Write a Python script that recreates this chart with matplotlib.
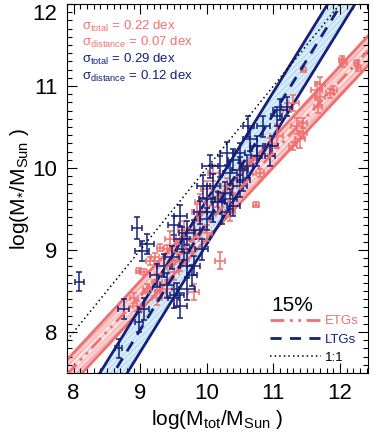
import numpy as np
import matplotlib
matplotlib.use("Agg")
import matplotlib.pyplot as plt
from matplotlib.ticker import MultipleLocator

plt.rcParams['font.family'] = ['Liberation Sans', 'DejaVu Sans']
plt.rcParams['mathtext.fontset'] = 'custom'
plt.rcParams['mathtext.rm'] = 'Liberation Sans'
plt.rcParams['mathtext.it'] = 'Liberation Sans'
plt.rcParams['mathtext.sf'] = 'Liberation Sans'
plt.rcParams['hatch.linewidth'] = 0.6

# ---------------- data ----------------
ltg_x = [8.085, 8.95, 9.025, 9.1, 8.75, 9.05, 8.975, 8.675, 9.475, 9.5, 9.55, 9.5, 9.6,
         9.7, 9.65, 9.775, 9.8, 9.925, 9.625, 9.9, 10.0, 10.1, 10.175, 10.225, 10.275,
         10.35, 10.4, 10.5, 10.4, 10.55, 10.625, 10.65, 10.75, 10.75, 10.85, 10.975,
         11.05, 11.1, 11.2, 10.5, 10.6, 10.2, 10.3, 10.05, 9.8, 9.35, 9.7, 9.25, 9.6,
         10.0, 9.4, 9.7, 10.1, 9.95, 10.35, 10.5, 10.95]
ltg_y = [8.615, 9.27, 8.99, 9.07, 8.28, 8.28, 8.12, 7.8, 8.91, 9.3, 8.45, 8.41, 8.32,
         9.21, 9.01, 8.69, 8.81, 9.01, 9.13, 9.46, 9.62, 9.78, 9.58, 9.46, 9.7,
         9.94, 10.1, 9.98, 9.54, 9.86, 10.51, 10.35, 10.27, 10.15, 10.51, 10.27,
         10.63, 10.71, 10.75, 9.78, 10.02, 10.02, 10.18, 10.02, 9.25, 8.81, 8.81, 8.69, 9.42,
         9.38, 8.57, 8.53, 9.46, 9.78, 9.62, 10.18, 10.15]
ltg_xerr = [0.07, 0.08, 0.1, 0.1, 0.08, 0.08, 0.06, 0.05, 0.1, 0.08, 0.1, 0.08, 0.1,
            0.12, 0.1, 0.08, 0.1, 0.1, 0.12, 0.1, 0.12, 0.1, 0.1, 0.12, 0.1,
            0.1, 0.08, 0.12, 0.1, 0.1, 0.08, 0.1, 0.1, 0.08, 0.1, 0.1,
            0.08, 0.1, 0.08, 0.1, 0.1, 0.12, 0.1, 0.12, 0.1, 0.1, 0.1, 0.1, 0.1,
            0.1, 0.1, 0.12, 0.1, 0.1, 0.1, 0.08, 0.08]
ltg_yerr = [0.12, 0.13, 0.12, 0.12, 0.12, 0.13, 0.12, 0.12, 0.14, 0.12, 0.15, 0.12, 0.15,
            0.15, 0.13, 0.13, 0.12, 0.13, 0.15, 0.14, 0.16, 0.15, 0.13, 0.14, 0.13,
            0.14, 0.13, 0.15, 0.13, 0.14, 0.13, 0.14, 0.12, 0.12, 0.13, 0.12,
            0.12, 0.13, 0.12, 0.13, 0.14, 0.13, 0.14, 0.14, 0.12, 0.14, 0.15, 0.14, 0.13,
            0.13, 0.15, 0.14, 0.12, 0.14, 0.12, 0.12, 0.13]

etg_x = [10.2, 10.74, 8.975, 9.05, 9.15, 9.225, 9.3, 9.4, 8.9, 8.95, 9.3, 9.25, 9.5,
         9.65, 9.7, 9.8, 9.9, 9.85, 10.0, 10.1, 10.15, 10.3, 10.4, 10.55, 10.7, 10.8,
         10.95, 11.05, 11.2, 11.3, 11.3, 11.4, 11.45, 11.45, 11.35, 11.45, 11.675, 11.7,
         11.65, 11.85, 11.9, 12.025, 12.05, 12.25, 12.275, 11.7, 9.55, 9.6, 10.0, 9.4,
         9.45, 9.25, 9.1, 9.8, 9.9, 10.35]
etg_y = [8.87, 9.55, 8.75, 8.73, 8.87, 8.91, 9.03, 9.01, 8.41, 8.32, 8.49, 8.41, 8.73,
         9.25, 8.97, 9.13, 9.25, 9.46, 9.74, 9.94, 9.62, 9.78, 9.78, 10.02, 10.1, 9.94,
         10.27, 10.39, 10.71, 10.79, 10.27, 10.35, 10.43, 10.55, 10.51, 11.2, 10.75, 10.87,
         10.95, 10.91, 10.95, 11.32, 11.28, 11.28, 11.22, 11.03, 8.97, 8.85, 9.21, 8.53,
         9.13, 8.61, 8.53, 8.49, 9.58, 9.46]
etg_xerr = [0.08, 0.05, 0.04, 0.05, 0.06, 0.06, 0.05, 0.06, 0.06, 0.06, 0.08, 0.08, 0.08,
            0.08, 0.08, 0.08, 0.08, 0.08, 0.08, 0.08, 0.08, 0.08, 0.06, 0.06, 0.06, 0.06,
            0.08, 0.1, 0.06, 0.08, 0.06, 0.08, 0.06, 0.06, 0.08, 0.04, 0.06, 0.08,
            0.08, 0.06, 0.05, 0.04, 0.05, 0.04, 0.04, 0.08, 0.08, 0.08, 0.08, 0.08,
            0.08, 0.08, 0.06, 0.08, 0.08, 0.08]
etg_yerr = [0.1, 0.03, 0.03, 0.04, 0.05, 0.05, 0.04, 0.05, 0.06, 0.06, 0.08, 0.08, 0.1,
            0.1, 0.1, 0.1, 0.1, 0.1, 0.1, 0.1, 0.1, 0.1, 0.08, 0.06, 0.06, 0.05,
            0.1, 0.15, 0.08, 0.1, 0.05, 0.1, 0.06, 0.06, 0.1, 0.03, 0.08, 0.1,
            0.1, 0.06, 0.05, 0.05, 0.05, 0.04, 0.04, 0.08, 0.1, 0.1, 0.1, 0.1,
            0.1, 0.1, 0.06, 0.1, 0.1, 0.1]

# fit relations (slope, value at x0)
etg_slope, etg_x0, etg_y0 = 0.874, 7.9, 7.48
etg_half_total, etg_half_dist = 0.18, 0.08
ltg_slope, ltg_x0, ltg_y0 = 1.316, 8.6, 7.5
ltg_half_total = 0.27

x_ticks = [8, 9, 10, 11, 12]
y_ticks = [8, 9, 10, 11, 12]

sigma_labels = [r'$\sigma_{\rm total}$ = 0.22 dex', r'$\sigma_{\rm distance}$ = 0.07 dex',
                r'$\sigma_{\rm total}$ = 0.29 dex', r'$\sigma_{\rm distance}$ = 0.12 dex']

SALMON = '#f07070'
NAVY = '#14207a'

fig = plt.figure(figsize=(3.74, 4.33), dpi=100)
ax = fig.add_axes([0.179, 0.1386, 0.805, 0.852])

xx = np.linspace(7.9, 12.42, 200)
ey = etg_y0 + etg_slope * (xx - etg_x0)
ly = ltg_y0 + ltg_slope * (xx - ltg_x0)

# ETG band
ax.fill_between(xx, ey - etg_half_total, ey + etg_half_total, facecolor='#fbcaca',
                edgecolor='#f29a9a', hatch='//////', lw=0, zorder=1)
ax.fill_between(xx, ey - etg_half_dist, ey + etg_half_dist, facecolor='#fde2e2',
                edgecolor='#f4abab', hatch='//////', lw=0, zorder=1)
ax.plot(xx, ey - etg_half_total, color=SALMON, lw=2, zorder=2)
ax.plot(xx, ey + etg_half_total, color=SALMON, lw=2, zorder=2)

# LTG band
ax.fill_between(xx, ly - ltg_half_total, ly + ltg_half_total, facecolor='#d8ecfa',
                edgecolor='#a8d2f0', hatch='//////', lw=0, zorder=1)
ax.plot(xx, ly - ltg_half_total, color=NAVY, lw=2, zorder=2)
ax.plot(xx, ly + ltg_half_total, color=NAVY, lw=2, zorder=2)

# data
ax.errorbar(etg_x, etg_y, xerr=etg_xerr, yerr=etg_yerr, fmt='none', ecolor=SALMON,
            elinewidth=1.1, capsize=2.5, capthick=1.1, zorder=3)
ax.errorbar(ltg_x, ltg_y, xerr=ltg_xerr, yerr=ltg_yerr, fmt='none', ecolor=NAVY,
            elinewidth=1.1, capsize=2.5, capthick=1.1, zorder=4)

# fit lines
l_etg, = ax.plot(xx, ey, color=SALMON, lw=2, dashes=[5, 2, 1, 2, 1, 2], zorder=5)
l_ltg, = ax.plot(xx, ly, color=NAVY, lw=2, dashes=[4, 3], zorder=5)
l_11, = ax.plot(xx, xx, color='black', lw=1.1, ls=(0, (1, 2)), zorder=5)

ax.set_xlim(7.9, 12.42)
ax.set_ylim(7.5, 12.0)
ax.set_xticks(x_ticks)
ax.set_yticks(y_ticks)
ax.xaxis.set_minor_locator(MultipleLocator(0.1))
ax.yaxis.set_minor_locator(MultipleLocator(0.1))
ax.tick_params(which='both', direction='in', top=True, right=True, width=0.8)
ax.tick_params(which='major', length=7, labelsize=16, pad=7)
ax.tick_params(which='minor', length=3.5)
for s in ax.spines.values():
    s.set_linewidth(0.8)
# keep top y label inside the figure
ax.yaxis.get_major_ticks()[-1].label1.set_verticalalignment('top')

ax.set_xlabel(r'log(M$_{\rm tot}$/M$_{\rm Sun}$ )', fontsize=15, labelpad=3)
ax.set_ylabel(r'log(M$_{*}$/M$_{\rm Sun}$ )', fontsize=15, labelpad=1)

cols = [SALMON, SALMON, NAVY, NAVY]
for i, (t, c) in enumerate(zip(sigma_labels, cols)):
    ax.text(0.05, 0.94 - i * 0.045, t, color=c, fontsize=9.5, transform=ax.transAxes,
            va='center', ha='left')

ax.text(0.75, 0.182, '15%', fontsize=15, transform=ax.transAxes, ha='center', va='center')
leg = ax.legend([l_etg, l_ltg, l_11], ['ETGs', 'LTGs', '1:1'], loc='lower right',
                frameon=False, fontsize=9.5, handlelength=3.9, handletextpad=0.3,
                borderaxespad=0.3, labelspacing=0.45, bbox_to_anchor=(1.0, 0.0))
for t, c in zip(leg.get_texts(), [SALMON, NAVY, 'black']):
    t.set_color(c)

fig.savefig('out.png', dpi=100)
